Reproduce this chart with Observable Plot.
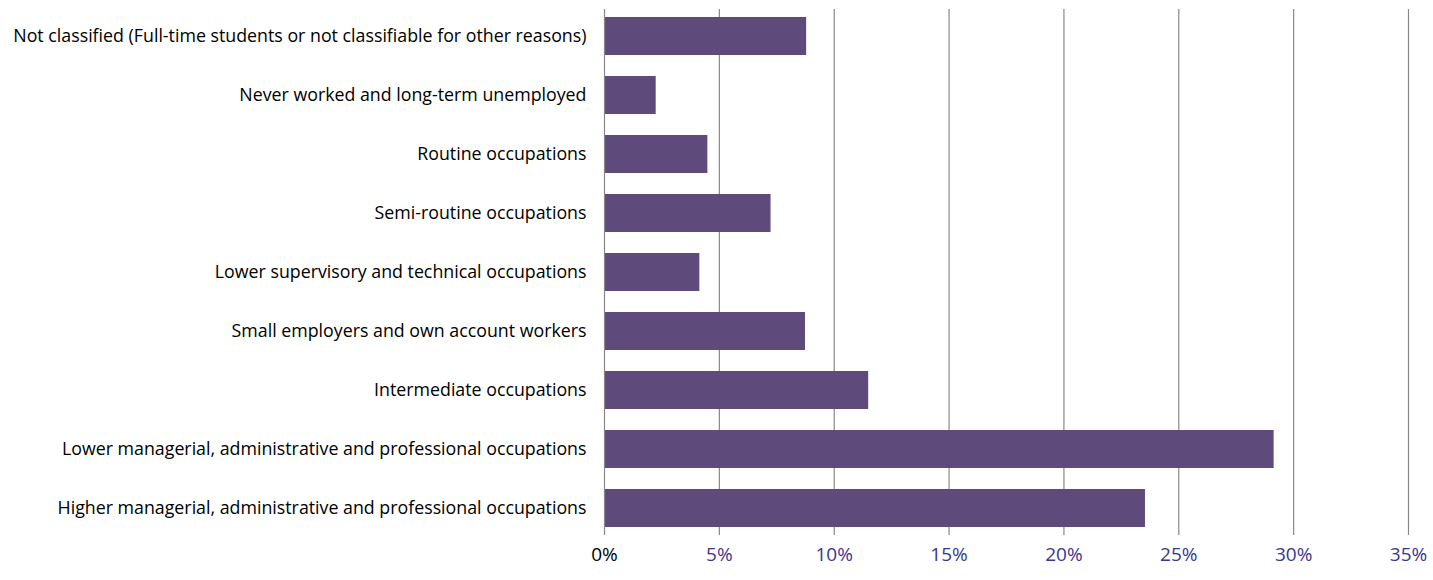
<!DOCTYPE html>
<html><head><meta charset="utf-8">
<script src="https://cdn.jsdelivr.net/npm/d3@7"></script>
<script src="https://cdn.jsdelivr.net/npm/@observablehq/plot@0.6"></script>
<style>body{margin:0;background:#fff}</style>
</head><body><div id="chart"></div>
<script>
// categories top to bottom, share of respondents (%)
const categories = [
  "Not classified (Full-time students or not classifiable for other reasons)",
  "Never worked and long-term unemployed",
  "Routine occupations",
  "Semi-routine occupations",
  "Lower supervisory and technical occupations",
  "Small employers and own account workers",
  "Intermediate occupations",
  "Lower managerial, administrative and professional occupations",
  "Higher managerial, administrative and professional occupations"
];
const values = [8.8, 2.25, 4.5, 7.25, 4.15, 8.75, 11.5, 29.15, 23.55];
const xTicks = [0, 5, 10, 15, 20, 25, 30, 35];

const data = categories.map((c, i) => ({category: c, value: values[i]}));

const chart = Plot.plot({
  width: 1433,
  height: 580,
  marginLeft: 604,
  marginRight: 25,
  marginTop: 9,
  marginBottom: 45,
  style: {fontFamily: "'Open Sans', sans-serif", fontSize: "16px", color: "#000", background: "#fff"},
  x: {domain: [0, 35], ticks: xTicks, label: null},
  y: {domain: categories, paddingInner: 0.35, paddingOuter: 0.1, label: null},
  marks: [
    Plot.ruleX(xTicks.slice(1), {stroke: "#888", strokeOpacity: 1, strokeWidth: 1.2}),
    Plot.barX(data, {x: "value", y: "category", fill: "#5f4b7b"}),
    Plot.ruleX([0], {stroke: "#888", strokeWidth: 1.2}),
    Plot.axisX({ticks: xTicks, tickSize: 0, tickPadding: 12, fontSize: 19,
      tickFormat: d => d + "%",
      fill: d => d === 0 ? "#000" : "#3b3592"}),
    Plot.axisY({tickSize: 0, tickPadding: 18, fontSize: 17.8})
  ]
});
document.getElementById("chart").append(chart);
</script></body></html>
